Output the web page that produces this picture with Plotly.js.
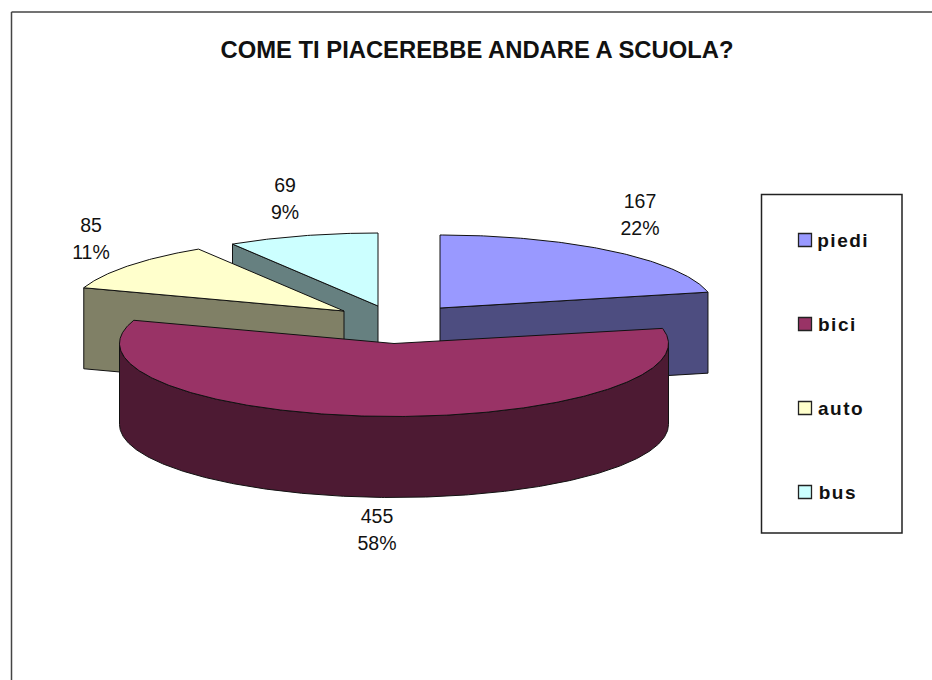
<!DOCTYPE html>
<html>
<head>
<meta charset="utf-8">
<script src="https://cdn.plot.ly/plotly-3.0.1.min.js"></script>
<style>
html,body{margin:0;padding:0;background:#fff;overflow:hidden}
#chart{width:932px;height:680px}
#chart .annotation-text{letter-spacing:1.5px}
</style>
</head>
<body>
<div id="chart"></div>
<script>
// --- data ---
const categories = ["piedi", "bici", "auto", "bus"];
const values = [167, 455, 85, 69];
const percentLabels = ["22%", "58%", "11%", "9%"];
const topColors = ["#9999FF", "#993366", "#FFFFCC", "#CCFFFF"];
const sideColors = ["#4D4D80", "#4D1A33", "#808066", "#668080"];
const chartTitle = "COME TI PIACEREBBE ANDARE A SCUOLA?";

// --- layout of the exploded slices (pixel-based axes) ---
const RX = 274.5, RY = 73, DEPTH = 81;
const apex = {piedi:[440,308], bici:[394,343.5], auto:[344,311], bus:[378,306]};
const labelPos = {piedi:[640,203,230], bici:[377,518,545], auto:[91,227,254], bus:[285,187,214]};
const legendY = {piedi:240, bici:324, auto:408, bus:492};
const OUTLINE = "#111";
const LABEL_FONT = {family:"Liberation Sans",size:19.5,color:"#111"};

const total = values.reduce((a,b)=>a+b,0);
let acc = 0;
const slices = categories.map((c,i)=>{
  const a0 = acc/total*2*Math.PI; acc += values[i];
  const a1 = acc/total*2*Math.PI;
  return {name:c, a0, a1, c:apex[c], top:topColors[i], side:sideColors[i]};
});
const pt = (s,a,dz=0)=>[s.c[0]+RX*Math.sin(a), s.c[1]-RY*Math.cos(a)+dz];
function arc(s,a0,a1,dz=0){
  const out=[], n=Math.max(2,Math.ceil(Math.abs(a1-a0)/0.01));
  for(let k=0;k<=n;k++) out.push(pt(s,a0+(a1-a0)*k/n,dz));
  return out;
}
function poly(points,color,name){
  return {type:"scatter",mode:"lines",x:points.map(p=>p[0]),y:points.map(p=>p[1]),
    fill:"toself",fillcolor:color,line:{color:OUTLINE,width:1},
    hoverinfo:"skip",showlegend:false,name};
}
function topFace(s){ return poly([s.c,...arc(s,s.a0,s.a1),s.c],s.top,s.name+" top"); }
function cutFace(s,a){ const e=pt(s,a); return poly([s.c,e,[e[0],e[1]+DEPTH],[s.c[0],s.c[1]+DEPTH],s.c],s.side,s.name+" side"); }
function rimFace(s){
  const a0=Math.max(s.a0,Math.PI/2), a1=Math.min(s.a1,1.5*Math.PI);
  return poly([...arc(s,a0,a1),...arc(s,a1,a0,DEPTH),pt(s,a0)],s.side,s.name+" rim");
}
const [piedi,bici,auto,bus] = slices;
const traces = [
  cutFace(bus,bus.a0), topFace(bus),
  cutFace(auto,auto.a0), topFace(auto),
  cutFace(piedi,piedi.a1), topFace(piedi),
  rimFace(bici), topFace(bici)
];
// data labels
traces.push({type:"scatter",mode:"text",x:categories.map(c=>labelPos[c][0]),y:categories.map(c=>labelPos[c][1]),
  text:values.map(String),textposition:"middle center",textfont:LABEL_FONT,hoverinfo:"skip",showlegend:false});
traces.push({type:"scatter",mode:"text",x:categories.map(c=>labelPos[c][0]),y:categories.map(c=>labelPos[c][2]),
  text:percentLabels,textposition:"middle center",textfont:LABEL_FONT,hoverinfo:"skip",showlegend:false});
// legend
traces.push({type:"scatter",mode:"markers",x:categories.map(()=>805),y:categories.map(c=>legendY[c]),
  marker:{symbol:"square",size:13,color:topColors,line:{color:"#222",width:1.3}},hoverinfo:"skip",showlegend:false});

const labelAnn = categories.map(c=>({xref:"x",yref:"y",x:819,y:legendY[c],text:c,showarrow:false,xanchor:"left",yanchor:"middle",
  font:{family:"Liberation Sans",size:19,color:"#111",weight:700},captureevents:false}));

const layout = {
  width:932,height:680,margin:{l:0,r:0,t:0,b:0},
  paper_bgcolor:"#fff",plot_bgcolor:"#fff",showlegend:false,
  title:{text:"<b>"+chartTitle+"</b>",x:477/932,xanchor:"center",y:1-50/680,yanchor:"middle",font:{family:"Liberation Sans",size:23.8,color:"#111"}},
  xaxis:{range:[0,932],visible:false,fixedrange:true},
  yaxis:{range:[680,0],visible:false,fixedrange:true},
  annotations:labelAnn,
  shapes:[
    {type:"line",xref:"x",yref:"y",x0:11.5,y0:12,x1:932,y1:12,line:{color:"#444",width:1.5}},
    {type:"line",xref:"x",yref:"y",x0:11.5,y0:12,x1:11.5,y1:680,line:{color:"#444",width:1.5}},
    {type:"rect",xref:"x",yref:"y",x0:761.5,y0:194.5,x1:902,y1:533,line:{color:"#222",width:1.5},fillcolor:"rgba(0,0,0,0)"}
  ]
};
Plotly.newPlot("chart",traces,layout,{staticPlot:true,displayModeBar:false});
</script>
</body>
</html>
